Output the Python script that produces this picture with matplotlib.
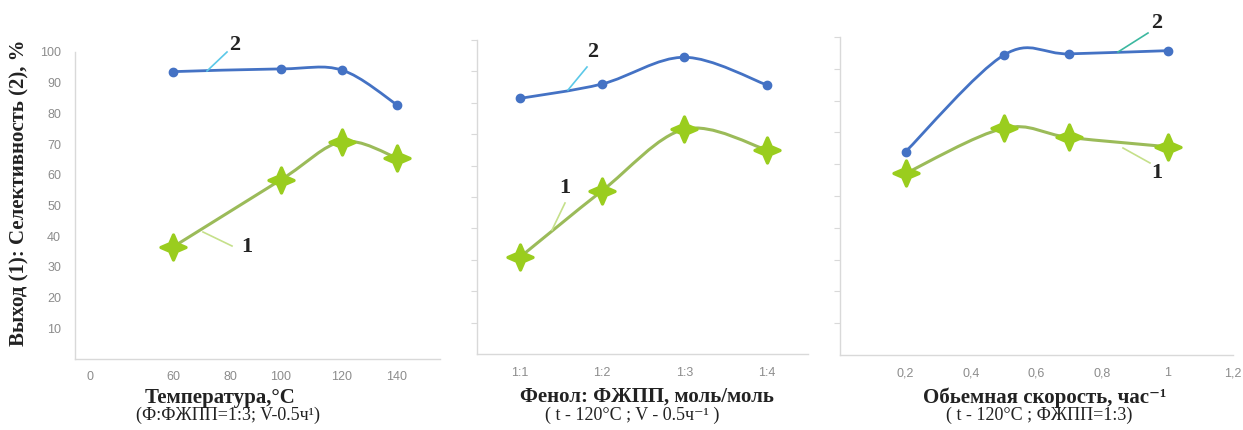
import numpy as np
import matplotlib
matplotlib.use("Agg")
import matplotlib.pyplot as plt
from matplotlib.path import Path
from matplotlib.patches import PathPatch
from matplotlib.lines import Line2D

# ---------------- data ----------------
temp_x = [60, 100, 120, 140]
temp_yield = [36.5, 58.4, 70.8, 65.5]
temp_select = [93.6, 94.5, 94.1, 82.8]
temp_ticks = [0, 60, 80, 100, 120, 140]

ratio_labels = ["1:1", "1:2", "1:3", "1:4"]
ratio_yield = [30.8, 52.0, 71.6, 65.0]
ratio_select = [81.4, 86.0, 94.5, 85.7]

speed_x = [0.2, 0.5, 0.7, 1.0]
speed_yield = [57.1, 71.3, 68.4, 65.5]
speed_select = [63.9, 94.3, 94.7, 95.7]
speed_ticks = [0.2, 0.4, 0.6, 0.8, 1.0, 1.2]
speed_ticklabels = ["0,2", "0,4", "0,6", "0,8", "1", "1,2"]

y_ticks = [10, 20, 30, 40, 50, 60, 70, 80, 90, 100]

# ---------------- style ----------------
W, H = 1243, 430
BLUE = "#4472C4"
GREEN_LINE = "#9BBB59"
GREEN_MARK = "#9ACD1E"
SPINE = "#d9d9d9"
TICKC = "#8c8c8c"
SERIF = ["Liberation Serif", "DejaVu Serif"]
SANS = ["Liberation Sans", "DejaVu Sans"]

# four-pointed sparkle marker
_a = 0.3
STAR = Path([(0, 1), (_a, _a), (1, 0), (_a, -_a), (0, -1), (-_a, -_a),
             (-1, 0), (-_a, _a), (0, 1)],
            [Path.MOVETO] + [Path.LINETO] * 7 + [Path.CLOSEPOLY])

fig = plt.figure(figsize=(W / 100, H / 100), dpi=100)


def px_axes(left, right, top, bottom):
    return fig.add_axes([left / W, (H - bottom) / H, (right - left) / W, (bottom - top) / H])


# piecewise-linear scale for the temperature axis (as in the source chart)
Tk = np.array([0, 60, 80, 100, 120, 140], float)
Uk = np.array([15, 98, 155, 206, 267, 322], float)


def _pw(x, xa, ya):
    x = np.asarray(x, float)
    y = np.interp(x, xa, ya)
    s0 = (ya[1] - ya[0]) / (xa[1] - xa[0])
    s1 = (ya[-1] - ya[-2]) / (xa[-1] - xa[-2])
    y = np.where(x < xa[0], ya[0] + (x - xa[0]) * s0, y)
    y = np.where(x > xa[-1], ya[-1] + (x - xa[-1]) * s1, y)
    return y


def fwd(x):
    return _pw(x, Tk, Uk)


def inv(u):
    return _pw(u, Uk, Tk)


def smooth_path(xs, ys, f=None, finv=None):
    xs = np.asarray(xs, float)
    ys = np.asarray(ys, float)
    if f is not None:
        xs = f(xs)
    P = np.column_stack([xs, ys])
    n = len(P)
    verts = [P[0]]
    codes = [Path.MOVETO]
    for i in range(n - 1):
        p0 = P[i - 1] if i > 0 else P[i]
        p1 = P[i]
        p2 = P[i + 1]
        p3 = P[i + 2] if i + 2 < n else P[i + 1]
        c1 = p1 + (p2 - p0) / 6.0
        c2 = p2 - (p3 - p1) / 6.0
        verts += [c1, c2, p2]
        codes += [Path.CURVE4] * 3
    verts = np.array(verts)
    if finv is not None:
        verts[:, 0] = finv(verts[:, 0])
    return Path(verts, codes)


def style_axes(ax):
    for s in ("top", "right"):
        ax.spines[s].set_visible(False)
    for s in ("left", "bottom"):
        ax.spines[s].set_color(SPINE)
        ax.spines[s].set_linewidth(1.0)
    ax.set_ylim(0, 100)
    ax.set_yticks(y_ticks)
    ax.tick_params(axis="x", length=0, pad=9, labelsize=9, labelcolor=TICKC)
    ax.tick_params(axis="y", length=4, color=SPINE, labelsize=9, labelcolor=TICKC)


def set_tick_font(ax):
    for lab in ax.get_xticklabels() + ax.get_yticklabels():
        lab.set_family(SANS)


def draw_series(ax, xs, ys_sel, ys_yield, f=None, finv=None):
    ax.add_patch(PathPatch(smooth_path(xs, ys_sel, f, finv), fill=False,
                           edgecolor=BLUE, lw=2.0, zorder=3))
    ax.plot(xs, ys_sel, ls="none", marker="o", ms=6, color=BLUE, zorder=4)
    ax.add_patch(PathPatch(smooth_path(xs, ys_yield, f, finv), fill=False,
                           edgecolor=GREEN_LINE, lw=2.2, zorder=3))
    ax.plot(xs, ys_yield, ls="none", marker=STAR, ms=18, color=GREEN_MARK,
            mec=GREEN_MARK, mew=2.4, zorder=4)


def leader(p_from, p_to, color, lw=1.2):
    fig.add_artist(Line2D([p_from[0] / W, p_to[0] / W],
                          [(H - p_from[1]) / H, (H - p_to[1]) / H],
                          transform=fig.transFigure, color=color, lw=lw))


def label(txt, xy, size=16):
    fig.text(xy[0] / W, (H - xy[1]) / H, txt, ha="center", va="center",
             family=SERIF, weight="bold", size=size, color="#222222")


# ---------------- panel 1 ----------------
ax1 = px_axes(75, 440, 52, 359)
ax1.set_xscale("function", functions=(fwd, inv))
ax1.set_xlim(float(inv(0)), float(inv(365)))
draw_series(ax1, temp_x, temp_select, temp_yield, fwd, inv)
style_axes(ax1)
ax1.set_xticks(temp_ticks)
ax1.set_xticklabels([str(t) for t in temp_ticks])
ax1.xaxis.set_minor_locator(matplotlib.ticker.NullLocator())
ax1.tick_params(axis="y", length=0, pad=10)
set_tick_font(ax1)

# ---------------- panel 2 ----------------
ax2 = px_axes(477, 808, 40, 354)
rx = np.arange(1, len(ratio_labels) + 1)
ax2.set_xlim(0.48, 4.5)
draw_series(ax2, rx, ratio_select, ratio_yield)
style_axes(ax2)
ax2.set_xticks(rx)
ax2.set_xticklabels(ratio_labels)
ax2.set_yticklabels([])
set_tick_font(ax2)

# ---------------- panel 3 ----------------
ax3 = px_axes(840, 1233, 37, 355)
ax3.set_xlim(0, 1.2)
draw_series(ax3, speed_x, speed_select, speed_yield)
style_axes(ax3)
ax3.set_xticks(speed_ticks)
ax3.set_xticklabels(speed_ticklabels)
ax3.set_yticklabels([])
set_tick_font(ax3)

# ---------------- labels ----------------
TXT = "#222222"
fig.text(19 / W, (H - 193) / H, "Выход (1): Селективность (2), %", rotation=90,
         ha="center", va="center", family=SERIF, weight="bold", size=15, color=TXT)

fig.text(220 / W, (H - 398) / H, "Температура,°С", ha="center", va="center",
         family=SERIF, weight="bold", size=15, color=TXT)
fig.text(228 / W, (H - 415) / H, "(Ф:ФЖПП=1:3; V-0.5ч¹)", ha="center", va="center",
         family=SERIF, size=13, color=TXT)

fig.text(647 / W, (H - 397) / H, "Фенол: ФЖПП, моль/моль", ha="center", va="center",
         family=SERIF, weight="bold", size=15, color=TXT)
fig.text(632 / W, (H - 415) / H, "( t - 120°C ; V - 0.5ч⁻¹ )", ha="center", va="center",
         family=SERIF, size=13, color=TXT)

fig.text(1045 / W, (H - 398) / H, "Обьемная скорость, час⁻¹", ha="center", va="center",
         family=SERIF, weight="bold", size=15, color=TXT)
fig.text(1039 / W, (H - 415) / H, "( t - 120°C ; ФЖПП=1:3)", ha="center", va="center",
         family=SERIF, size=13, color=TXT)

# series number callouts
CYAN = "#5BC8E8"
LGREEN = "#C5E08A"
TEAL = "#3CB8A0"
leader((207, 71), (227, 52), CYAN)
label("2", (235, 45))
leader((203, 232), (232, 246), LGREEN)
label("1", (247, 247))

leader((568, 90), (587, 67), CYAN)
label("2", (593, 52))
leader((552, 230), (565, 203), LGREEN)
label("1", (565, 188))

leader((1118, 52), (1148, 33), TEAL)
label("2", (1157, 23))
leader((1123, 148), (1150, 163), LGREEN)
label("1", (1157, 173))

fig.savefig("out.png", dpi=100, facecolor="white")
